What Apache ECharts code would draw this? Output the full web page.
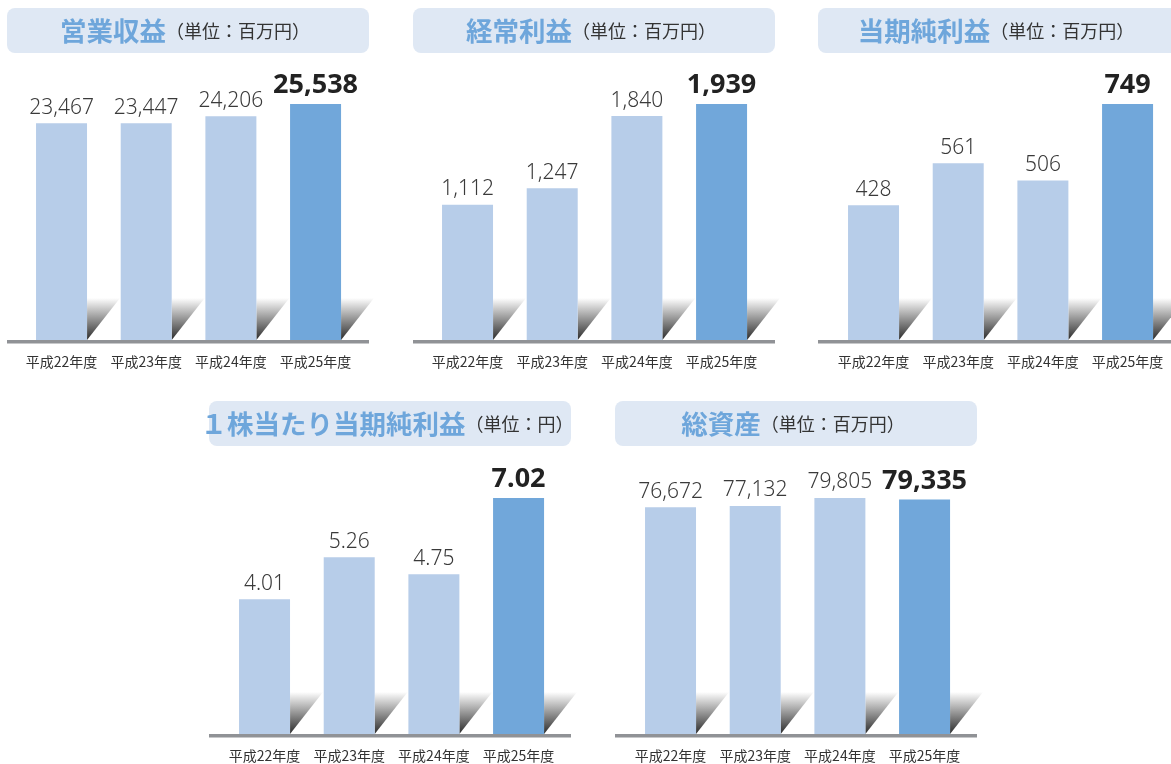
<!DOCTYPE html>
<html lang="ja">
<head>
    <meta charset="UTF-8">
    <title>業績の推移</title>
    <script src="https://cdn.jsdelivr.net/npm/echarts@6/dist/echarts.min.js"></script>
    <style>
        *{margin:0;padding:0;}
        html,body{width:100%;height:100%;overflow:hidden;background:#fff;}
        .box{width:1171px;height:764px;}
    </style>
</head>
<body>
<div class="box"></div>
<script>
    // データ
    const years = ['平成22年度', '平成23年度', '平成24年度', '平成25年度'];
    const revenue = [23467, 23447, 24206, 25538];
    const ordinaryIncome = [1112, 1247, 1840, 1939];
    const netIncome = [428, 561, 506, 749];
    const eps = [4.01, 5.26, 4.75, 7.02];
    const totalAssets = [76672, 77132, 79805, 79335];

    const titles = ['営業収益', '経常利益', '当期純利益', '１株当たり当期純利益', '総資産'];
    const units = ['（単位：百万円）', '（単位：百万円）', '（単位：百万円）', '（単位：円）', '（単位：百万円）'];
    const values = [revenue, ordinaryIncome, netIncome, eps, totalAssets];
    const decimals = [0, 0, 0, 2, 0];

    // 配置 (x of title box, y of title box, baseline y, grid left)
    const layout = [
        [7, 8, 340, 19.2],
        [413, 8, 340, 425.2],
        [818, 8, 340, 831.2],
        [209, 401, 734, 222.2],
        [615, 401, 734, 628.2]
    ];

    const cjk = '"Noto Sans CJK JP", "Noto Sans", sans-serif';
    const num = '"Noto Sans", "Noto Sans CJK JP", sans-serif';
    const lightBar = '#b7cde9';
    const darkBar = '#71a7da';

    let myChart = echarts.init(document.querySelector('.box'));

    let grid = [], xAxis = [], yAxis = [], series = [], graphic = [];

    values.forEach((vals, i) => {
        let [bx, by, base, left] = layout[i];
        grid.push({left: left, width: 338.7, top: base - 236, height: 236});
        xAxis.push({
            type: 'category', gridIndex: i, data: years,
            axisLine: {show: false}, axisTick: {show: false},
            axisLabel: {interval: 0, margin: 15, fontSize: 14, color: '#333', fontFamily: cjk}
        });
        yAxis.push({
            type: 'value', gridIndex: i, min: 0, max: Math.max(...vals),
            show: false, splitLine: {show: false}
        });

        let fmt = v => decimals[i] ? v.toFixed(decimals[i]) : v.toLocaleString('en-US');

        series.push({
            type: 'bar', xAxisIndex: i, yAxisIndex: i, barWidth: 51,
            data: vals.map((v, j) => j === 3 ? {
                value: v,
                itemStyle: {color: darkBar},
                label: {fontSize: 27, fontWeight: 'bold', color: '#222'}
            } : v),
            itemStyle: {color: lightBar},
            label: {
                show: true, position: 'top', distance: 5,
                fontSize: 21, fontWeight: 300, color: '#3a3a3a', fontFamily: num,
                formatter: p => fmt(p.value)
            },
            emphasis: {disabled: true}
        });

        // 棒の右下の影
        series.push({
            type: 'custom', xAxisIndex: i, yAxisIndex: i, clip: false, silent: true,
            data: vals.map((v, j) => [j, v]),
            renderItem: function (params, api) {
                let p = api.coord([api.value(0), 0]);
                let x = p[0] + 25.5, y = p[1];
                return {
                    type: 'polygon',
                    shape: {points: [[x, y - 42], [x + 33, y - 42], [x, y]]},
                    style: {
                        fill: new echarts.graphic.LinearGradient(0, 0, 0, 1, [
                            {offset: 0, color: '#ffffff'},
                            {offset: 1, color: '#2a2a2a'}
                        ])
                    }
                };
            }
        });

        // タイトルの背景
        graphic.push({
            type: 'rect', z: 0,
            shape: {x: bx, y: by, width: 362, height: 45, r: 8},
            style: {fill: '#dfe8f4'}
        });
        graphic.push({
            type: 'text', z: 1, x: bx + 178, y: by + 23,
            style: {
                text: '{a|' + titles[i] + '}{b|' + units[i] + '}',
                align: 'center', verticalAlign: 'middle',
                rich: {
                    a: {fontSize: 26.5, fontWeight: 'bold', fill: '#6ea6db', fontFamily: cjk},
                    b: {fontSize: 18, fill: '#333', fontFamily: cjk}
                }
            }
        });
        // 基準線
        graphic.push({
            type: 'rect', z: 0,
            shape: {x: bx, y: base, width: 362, height: 3.5},
            style: {fill: '#909296'}
        });
    });

    let option = {
        backgroundColor: '#fff',
        animation: false,
        grid, xAxis, yAxis, series, graphic
    };

    myChart.setOption(option);
</script>
</body>
</html>
